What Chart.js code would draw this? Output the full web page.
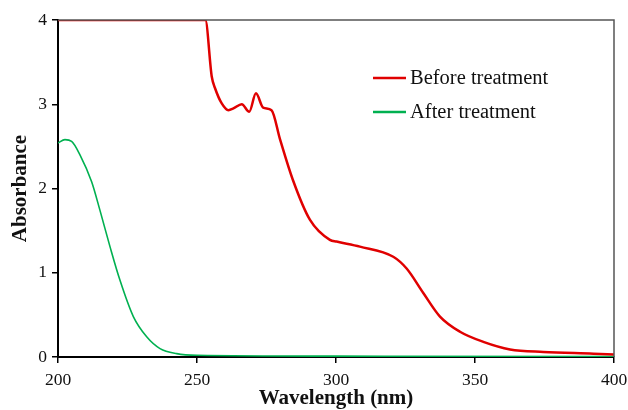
<!DOCTYPE html>
<html>
<head>
<meta charset="utf-8">
<script src="https://cdn.jsdelivr.net/npm/chart.js@4/dist/chart.umd.min.js"></script>
<style>
  html, body { margin: 0; padding: 0; background: #fff; }
  #wrap { width: 628px; height: 410px; }
</style>
</head>
<body>
<div id="wrap"><canvas id="uvChart" width="628" height="410"></canvas></div>
<script>
// Before treatment (values above 4 are clipped at the top of the plot)
const beforeWl  = [200, 253, 255.3, 256.5, 258.9, 261.3, 263.1, 266.1, 268.8, 271.2, 273.8, 276.8, 279.9, 284.4, 290.6, 297.8, 300.2, 308.6, 320.6, 325.4, 331.4, 337.4, 344.6, 353, 362.6, 374.6, 392.6, 400];
const beforeAbs = [4, 4, 3.33, 3.19, 3.01, 2.93, 2.95, 3.00, 2.91, 3.13, 2.96, 2.93, 2.58, 2.11, 1.63, 1.39, 1.37, 1.31, 1.19, 1.05, 0.76, 0.48, 0.30, 0.18, 0.09, 0.06, 0.04, 0.03];

// After treatment
const afterWl  = [200, 202.5, 204.9, 207.9, 212.1, 215.1, 218.7, 222.3, 227.1, 231.9, 236.7, 242.7, 250, 300, 400];
const afterAbs = [2.54, 2.58, 2.56, 2.40, 2.08, 1.74, 1.31, 0.91, 0.48, 0.24, 0.10, 0.04, 0.02, 0.01, 0.005];

const xTicks = [200, 250, 300, 350, 400];
const yTicks = [0, 1, 2, 3, 4];
const seriesNames = ['Before treatment', 'After treatment'];
const seriesColors = ['#e00000', '#00b050'];

const serif = "'Liberation Serif', 'DejaVu Serif', serif";

function toPoints(xs, ys) {
    return xs.map((x, i) => ({ x: x, y: ys[i] }));
}

// frame on top/right + legend inside plot
const framePlugin = {
    id: 'frame',
    afterDraw(chart) {
        const ctx = chart.ctx;
        const a = chart.chartArea;
        ctx.save();
        ctx.strokeStyle = '#555';
        ctx.lineWidth = 1.5;
        ctx.beginPath();
        ctx.moveTo(a.left, a.top);
        ctx.lineTo(a.right, a.top);
        ctx.lineTo(a.right, a.bottom);
        ctx.stroke();

        // legend
        ctx.font = '20.5px ' + serif;
        ctx.textBaseline = 'middle';
        ctx.textAlign = 'left';
        const lx = 373, ty = [78, 112];
        seriesNames.forEach((name, i) => {
            ctx.strokeStyle = seriesColors[i];
            ctx.lineWidth = 2.5;
            ctx.beginPath();
            ctx.moveTo(lx, ty[i]);
            ctx.lineTo(lx + 33, ty[i]);
            ctx.stroke();
            ctx.fillStyle = '#111';
            ctx.fillText(name, lx + 37, ty[i] + 1);
        });
        ctx.restore();
    }
};

const ctx = document.getElementById('uvChart').getContext('2d');
new Chart(ctx, {
    type: 'line',
    data: {
        datasets: [
            {
                label: seriesNames[0],
                data: toPoints(beforeWl, beforeAbs),
                borderColor: seriesColors[0],
                borderWidth: 2.5,
                pointRadius: 0,
                cubicInterpolationMode: 'monotone',
                fill: false
            },
            {
                label: seriesNames[1],
                data: toPoints(afterWl, afterAbs),
                borderColor: seriesColors[1],
                borderWidth: 1.6,
                pointRadius: 0,
                cubicInterpolationMode: 'monotone',
                fill: false
            }
        ]
    },
    options: {
        responsive: false,
        maintainAspectRatio: false,
        animation: false,
        layout: { padding: { left: 0, right: 14, top: 20, bottom: 0 } },
        plugins: {
            legend: { display: false },
            tooltip: { enabled: false }
        },
        scales: {
            x: {
                type: 'linear',
                min: 200,
                max: 400,
                afterBuildTicks(axis) { axis.ticks = xTicks.map(v => ({ value: v })); },
                afterFit(axis) {
                    axis.height = 53;
                    axis.paddingLeft = 0;
                    axis.paddingRight = 0;
                },
                border: { color: '#000', width: 2 },
                grid: { drawOnChartArea: false, drawTicks: true, tickLength: 6, color: '#000', lineWidth: 1.5 },
                ticks: { color: '#111', font: { family: serif, size: 17.5 }, padding: 7, maxRotation: 0 },
                title: {
                    display: true,
                    text: 'Wavelength (nm)',
                    color: '#111',
                    font: { family: serif, size: 21, weight: 'bold' },
                    padding: { top: 0, bottom: -1 }
                }
            },
            y: {
                min: 0,
                max: 4,
                afterBuildTicks(axis) { axis.ticks = yTicks.map(v => ({ value: v })); },
                afterFit(axis) { axis.width = 58; },
                border: { color: '#000', width: 2 },
                grid: { drawOnChartArea: false, drawTicks: true, tickLength: 6, color: '#000', lineWidth: 1.5 },
                ticks: { color: '#111', font: { family: serif, size: 17.5 }, padding: 5 },
                title: {
                    display: true,
                    text: 'Absorbance',
                    color: '#111',
                    font: { family: serif, size: 21, weight: 'bold' },
                    padding: { top: 8, bottom: 0 }
                }
            }
        }
    },
    plugins: [framePlugin]
});
</script>
</body>
</html>
